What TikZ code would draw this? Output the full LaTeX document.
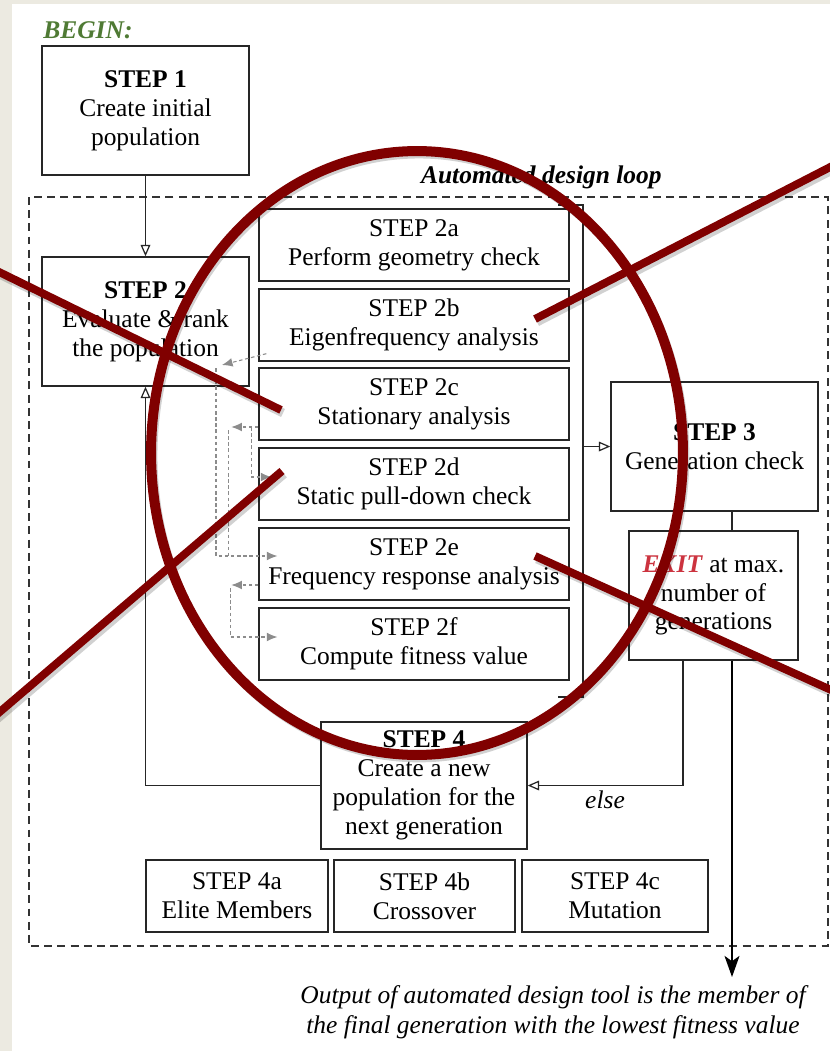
\documentclass[tikz,border=0pt]{standalone}
\usepackage{fontspec}
\setmainfont{Liberation Serif}
\usepackage{xcolor}
\usetikzlibrary{arrows.meta,calc}

\definecolor{paper}{RGB}{236,234,225}
\definecolor{begingreen}{RGB}{79,122,52}
\definecolor{exitred}{RGB}{204,51,63}
\definecolor{ringred}{RGB}{128,0,0}
\definecolor{fbgray}{RGB}{140,140,140}

\begin{document}
\begin{tikzpicture}[x=0.02cm, y=-0.02cm,
    txt/.style={font={\fontsize{14.5}{16.4}\selectfont}, inner sep=0pt, align=center},
    note/.style={txt, font={\fontsize{14.5}{17}\selectfont\itshape}},
    stepbox/.style={txt, rectangle, draw=black!85, line width=0.8pt, fill=white, minimum width=4.14cm, minimum height=2.58cm},
    subbox/.style={stepbox, minimum width=6.2cm, minimum height=1.44cm},
    opbox/.style={stepbox, minimum height=1.44cm},
    arrow/.style={-{Triangle[open, length=6.5pt, width=5.5pt]}, line width=0.7pt, black!85},
    wire/.style={line width=0.7pt, black!85},
    fbarrow/.style={-{Latex[length=6pt, width=5pt]}, fbgray, line width=0.6pt, dash pattern=on 2pt off 1.5pt},
    fbline/.style={fbgray, line width=0.6pt, dash pattern=on 2pt off 1.5pt},
    outarrow/.style={-{Stealth[length=12pt, width=8.5pt, inset=3pt]}, line width=1.1pt, black},
    redring/.style={draw=ringred, line width=5.7pt},
    redline/.style={draw=ringred, line width=4.5pt},
    redshadow/.style={draw=black, opacity=0.18, line width=5pt, shift={(2,3)}}
  ]
    % --- PAPER ---
    \fill[paper] (0,0) rectangle (830,1051);
    \fill[white] (12,4) rectangle (830,1051);
    \useasboundingbox (0,0) rectangle (830,1051);

    % --- START AND LOOP FRAME ---
    \node[txt, anchor=base west, text=begingreen] (begin) at (43,39) {\textbf{\textit{BEGIN:}}};
    \draw[black!80, line width=0.7pt, dash pattern=on 4.5pt off 3pt] (29,197) rectangle (828,946);
    \node[txt, anchor=base east] (looplabel) at (662,183) {\textbf{\textit{Automated design loop}}};

    \node[stepbox] (step1) at (145.5,110.5) {\textbf{STEP 1}\\Create initial\\population};
    \node[stepbox] (step2) at (145.5,321.5) {\textbf{STEP 2}\\Evaluate \& rank\\the population};

    \node[subbox] (step2a) at (414,245) {STEP 2a\\Perform geometry check};
    \node[subbox] (step2b) at (414,325) {STEP 2b\\Eigenfrequency analysis};
    \node[subbox] (step2c) at (414,404) {STEP 2c\\Stationary analysis};
    \node[subbox] (step2d) at (414,484) {STEP 2d\\Static pull-down check};
    \node[subbox] (step2e) at (414,564) {STEP 2e\\Frequency response analysis};
    \node[subbox] (step2f) at (414,644) {STEP 2f\\Compute fitness value};

    \node[stepbox] (step3) at (714.5,446.5) {\textbf{STEP 3}\\Generation check};
    \node[stepbox, minimum width=3.38cm] (exit) at (713.5,595.5) {\textcolor{exitred}{\textbf{\textit{EXIT}}} at max.\\number of\\generations};

    \node[stepbox, minimum width=4.12cm, minimum height=2.54cm] (step4) at (424,785.5) {\textbf{STEP 4}\\Create a new\\population for the\\next generation};
    \node[opbox, minimum width=3.64cm] (step4a) at (237,896) {STEP 4a\\Elite Members};
    \node[opbox, minimum width=3.62cm] (step4b) at (424.5,896) {STEP 4b\\Crossover};
    \node[opbox, minimum width=3.72cm] (step4c) at (615,896) {STEP 4c\\Mutation};

    % --- MAIN FLOW ---
    \draw[arrow] (step1) -- (step2);
    \coordinate (brtop) at (583,205);
    \coordinate (brbot) at (583,697);
    \draw[wire] ($(brtop)+(-25,0)$) -- (brtop) -- (brbot) -- ($(brbot)+(-25,0)$);
    \draw[arrow] (brtop |- step3.west) -- (step3.west);

    \coordinate (outtip) at (732,977);
    \draw[wire] (step3.south -| outtip) -- (exit.north -| outtip);
    \draw[outarrow] (exit.south -| outtip) -- (outtip);
    \node[note] (output) at (553,1012) {Output of automated design tool is the member of\\the final generation with the lowest fitness value};

    \coordinate (elsebend) at (683,785.5);
    \draw[arrow] (exit.south -| elsebend) -- (elsebend) -- (step4.east);
    \node[note] (elselabel) at (605,800) {else};
    \draw[arrow] (step4.west) -| (step2.south);

    % --- FEEDBACK BETWEEN SUB-STEPS ---
    \coordinate (fbtwo) at (222,365);
    \draw[fbarrow] ($(step2b.south west)+(8,-8)$) -- (fbtwo);
    \draw[fbarrow] ($(fbtwo)+(-6,3)$) |- ($(step2e.west)+(19,-8)$);
    \draw[fbarrow] ($(step2c.west)+(0,23)$) -- ($(step2c.west)+(-27,23)$);
    \draw[fbline] ($(step2c.west)+(-30,26)$) -- ($(step2e.west)+(-30,-8)$);
    \draw[fbarrow] ($(step2c.west)+(-7,23)$) |- ($(step2d.west)+(13,-7)$);
    \draw[fbarrow] ($(step2e.west)+(0,21)$) -- ($(step2e.west)+(-27,21)$);
    \draw[fbarrow] ($(step2e.west)+(-28,24)$) |- ($(step2f.west)+(19,-7)$);

    % --- RED MARKUP ---
    \begin{scope}
      \clip (0,0) rectangle (830,1051);
      \draw[redshadow] (-5,270) -- (281,410);
      \draw[redshadow] (535,319) -- (840,162);
      \draw[redshadow] (282,471) -- (-5,716);
      \draw[redshadow] (535,556) -- (840,694);
      \draw[redshadow] (417,453) ellipse [x radius=5.32cm, y radius=6.04cm];
      \draw[redring] (417,453) ellipse [x radius=5.32cm, y radius=6.04cm];
      \draw[redline] (-5,270) -- (281,410);
      \draw[redline] (535,319) -- (840,162);
      \draw[redline] (282,471) -- (-5,716);
      \draw[redline] (535,556) -- (840,694);
    \end{scope}
\end{tikzpicture}
\end{document}
